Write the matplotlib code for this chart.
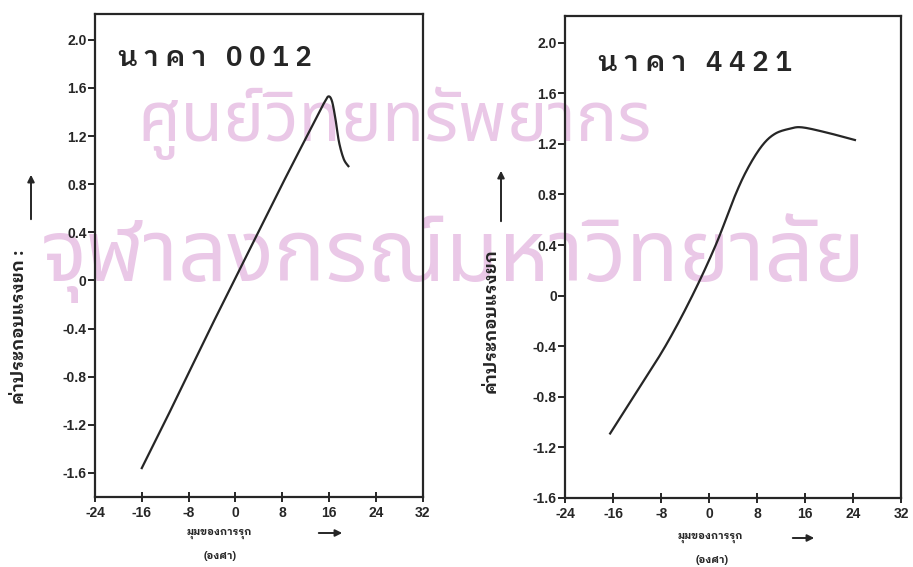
import matplotlib
matplotlib.use('Agg')
import matplotlib.pyplot as plt
import numpy as np
from matplotlib.ticker import FixedLocator
from matplotlib.patches import FancyArrowPatch

# data (angle in degrees, lift coefficient)
naca0012_alpha = [-16, -12, -8, -4, 0, 4, 8, 12, 14, 15.2, 15.9, 16.5, 17.1, 17.7, 18.5, 19.3]
naca0012_cl = [-1.56, -1.17, -0.77, -0.37, 0.02, 0.41, 0.80, 1.18, 1.37, 1.48, 1.53, 1.49, 1.34, 1.15, 1.01, 0.95]
naca4421_alpha = [-16.5, -12.6, -7.3, -2.8, 1.1, 4.4, 6.6, 8.9, 11, 13.5, 15.5, 19.5, 24.3]
naca4421_cl = [-1.09, -0.80, -0.40, 0.0, 0.40, 0.80, 1.02, 1.19, 1.28, 1.32, 1.33, 1.29, 1.23]

x_ticks = [-24, -16, -8, 0, 8, 16, 24, 32]
y_ticks = [-1.6, -1.2, -0.8, -0.4, 0, 0.4, 0.8, 1.2, 1.6, 2.0]
y_ticklabels = ['-1.6', '-1.2', '-0.8', '-0.4', '0', '0.4', '0.8', '1.2', '1.6', '2.0']

titles = ['น า ค า   0 0 1 2', 'น า ค า   4 4 2 1']
ylabel_text = ['ค่าประกอบแรงยก :', 'ค่าประกอบแรงยก']
xlabel_text = 'มุมของการรุก'
unit_text = '(องศา)'

THAI = ['IBM Plex Sans Thai Looped', 'DejaVu Sans']
INK = '#262626'


def smooth(xs, ys):
    # catmull-rom through the read points
    pts = np.array(list(zip(xs, ys)), dtype=float)
    pts = np.vstack([pts[0], pts, pts[-1]])
    out = []
    for i in range(1, len(pts) - 2):
        p0, p1, p2, p3 = pts[i - 1], pts[i], pts[i + 1], pts[i + 2]
        for t in np.linspace(0, 1, 20, endpoint=False):
            t2, t3 = t * t, t * t * t
            out.append(0.5 * ((2 * p1) + (-p0 + p2) * t + (2 * p0 - 5 * p1 + 4 * p2 - p3) * t2
                              + (-p0 + 3 * p1 - 3 * p2 + p3) * t3))
    out.append(pts[-2])
    out = np.array(out)
    return out[:, 0], out[:, 1]


fig = plt.figure(figsize=(9.13, 5.67), dpi=100)

# watermark of the scanned page
fig.text(0.150, 0.752, 'ศูนย์วิทยทรัพยากร', fontsize=50, color='#eac8e7',
         family=['Noto Sans Thai', 'DejaVu Sans'], zorder=-5)
fig.text(0.045, 0.505, 'จุฬาลงกรณ์มหาวิทยาลัย', fontsize=62, color='#eac8e7',
         family=['Noto Sans Thai', 'DejaVu Sans'], zorder=-5)

axes_pos = [[0.104, 0.1235, 0.359, 0.852], [0.619, 0.1217, 0.368, 0.850]]
series = [(naca0012_alpha, naca0012_cl), (naca4421_alpha, naca4421_cl)]
ylim_top = [2.216, 2.21]
ylim_bot = [-1.80, -1.6]
title_xy = [(0.07, 0.893), (0.098, 0.886)]

for i in range(2):
    ax = fig.add_axes(axes_pos[i])
    ax.patch.set_alpha(0)
    xs, ys = smooth(*series[i])
    ax.plot(xs, ys, color=INK, lw=1.6)
    ax.set_xlim(-24, 32)
    ax.set_ylim(ylim_bot[i], ylim_top[i])
    ax.xaxis.set_major_locator(FixedLocator(x_ticks))
    ax.set_xticklabels([str(v) for v in x_ticks])
    ax.yaxis.set_major_locator(FixedLocator(y_ticks))
    ax.set_yticklabels(y_ticklabels)
    for s in ax.spines.values():
        s.set_color(INK)
        s.set_linewidth(1.6)
    ax.tick_params(axis='x', direction='inout', length=7, width=1.4, color=INK, pad=3)
    ax.tick_params(axis='y', direction='out', length=5, width=1.4, color=INK, pad=1)
    for lab in ax.get_xticklabels() + ax.get_yticklabels():
        lab.set_fontfamily('Liberation Sans')
        lab.set_fontweight('bold')
        lab.set_fontsize(10)
        lab.set_color(INK)
    ax.text(title_xy[i][0], title_xy[i][1], titles[i], transform=ax.transAxes, fontsize=20,
            family=THAI, color=INK, fontweight='semibold')

# typed captions on the page
fig.text(19 / 913, 1 - 327 / 567, ylabel_text[0], rotation=90, ha='center', va='center',
         fontsize=12.5, family=THAI, fontweight='bold', color=INK)
fig.text(491 / 913, 1 - 321 / 567, ylabel_text[1], rotation=90, ha='center', va='center',
         fontsize=12.5, family=THAI, fontweight='bold', color=INK)
fig.text(219 / 913, 1 - 534 / 567, xlabel_text, ha='center', va='center',
         fontsize=7.5, family=THAI, fontweight='bold', color=INK)
fig.text(220 / 913, 1 - 556 / 567, unit_text, ha='center', va='center',
         fontsize=7.5, family=THAI, fontweight='bold', color=INK)
fig.text(710 / 913, 1 - 538 / 567, xlabel_text, ha='center', va='center',
         fontsize=7.5, family=THAI, fontweight='bold', color=INK)
fig.text(712 / 913, 1 - 560 / 567, unit_text, ha='center', va='center',
         fontsize=7.5, family=THAI, fontweight='bold', color=INK)

arrow = dict(arrowstyle='-|>', color=INK, lw=1.4, mutation_scale=10, transform=fig.transFigure)
fig.add_artist(FancyArrowPatch((31 / 913, 1 - 222 / 567), (31 / 913, 1 - 172 / 567), **arrow))
fig.add_artist(FancyArrowPatch((501 / 913, 1 - 224 / 567), (501 / 913, 1 - 168 / 567), **arrow))
fig.add_artist(FancyArrowPatch((316 / 913, 1 - 533 / 567), (345 / 913, 1 - 533 / 567), **arrow))
fig.add_artist(FancyArrowPatch((790 / 913, 1 - 538 / 567), (817 / 913, 1 - 538 / 567), **arrow))

fig.savefig('out.png', dpi=100)
